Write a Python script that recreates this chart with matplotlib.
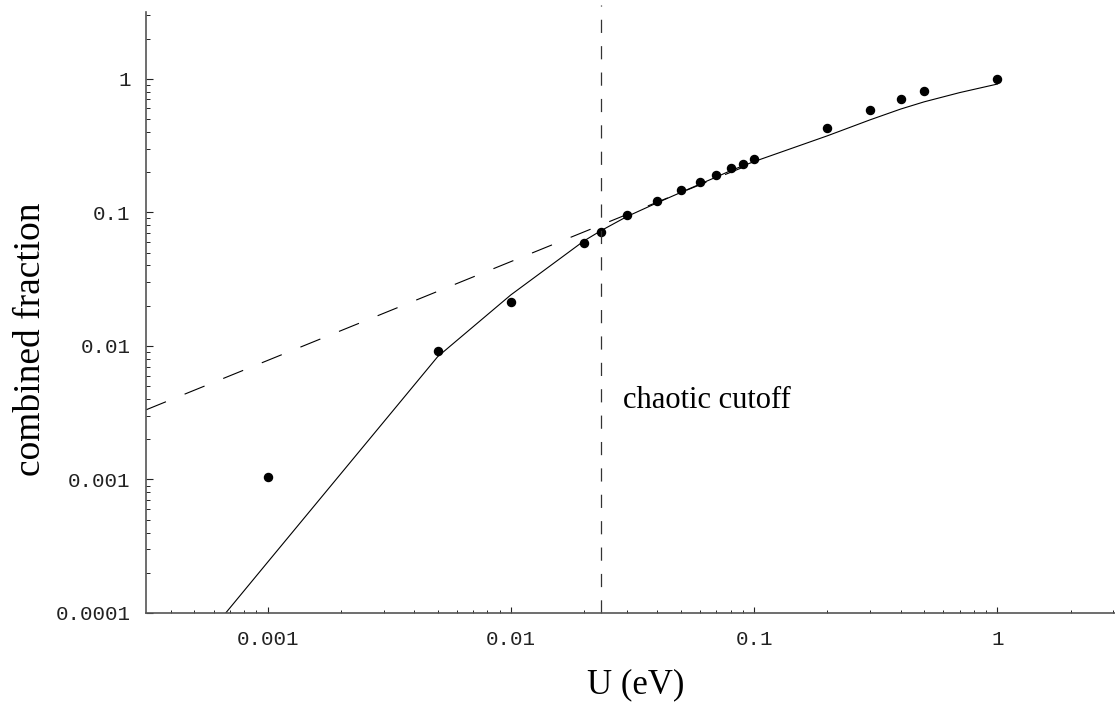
#!/usr/bin/env python3

import matplotlib
matplotlib.use("Agg")
import matplotlib.pyplot as plt
from matplotlib.ticker import FixedLocator, FixedFormatter, LogLocator, NullFormatter

# measured points (dots)
u_pts = [0.001, 0.005, 0.01, 0.02, 0.0235, 0.03, 0.04, 0.05, 0.06, 0.07,
         0.08, 0.09, 0.1, 0.2, 0.3, 0.4, 0.5, 1.0]
f_pts = [0.00105, 0.0092, 0.0214, 0.059, 0.0718, 0.0953, 0.121, 0.148, 0.170,
         0.191, 0.213, 0.232, 0.252, 0.428, 0.579, 0.708, 0.817, 1.0]

# model curve (solid)
u_model = [0.0005, 0.001, 0.005, 0.01, 0.02, 0.0235, 0.03, 0.04, 0.05, 0.06,
           0.07, 0.08, 0.09, 0.1, 0.2, 0.3, 0.4, 0.5, 0.7, 1.0]
f_model = [5.2e-5, 0.00024, 0.0083, 0.0241, 0.0612, 0.073, 0.093, 0.118, 0.141,
           0.163, 0.184, 0.205, 0.223, 0.240, 0.374, 0.493, 0.593, 0.672, 0.788,
           0.913]

# power-law fit (dashed)
u_fit = [10 ** -3.5, 0.1]
f_fit = [0.00332, 0.235]

u_cutoff = 0.0234

x_ticks = [0.001, 0.01, 0.1, 1]
x_labels = ["0.001", "0.01", "0.1", "1"]
y_ticks = [0.0001, 0.001, 0.01, 0.1, 1]
y_labels = ["0.0001", "0.001", "0.01", "0.1", "1"]

plt.rcParams["lines.scale_dashes"] = False
mono = "Liberation Mono"
serif = "Liberation Serif"
axis_col = "#555555"

fig = plt.figure(figsize=(11.15, 7.06), dpi=100)
ax = fig.add_axes([146 / 1115, 93 / 706, 973 / 1115, 601 / 706])
ax.set_xscale("log")
ax.set_yscale("log")
ax.set_xlim(10 ** -3.5, 10 ** 0.5)
ax.set_ylim(1e-4, 10 ** 0.5)

ax.plot(u_fit, f_fit, color="black", lw=0.8, dashes=(15.5, 14.5))
ax.plot(u_model, f_model, color="black", lw=0.8)
ax.plot(u_pts, f_pts, "o", color="black", ms=5.8, mec="black")
ax.axvline(u_cutoff, ymin=0, ymax=1.012, color="#333333", lw=0.9,
           dashes=(9.5, 9.5), clip_on=False)

ax.text(0.029, 0.00344, "chaotic cutoff", family=serif, fontsize=22,
        va="baseline", ha="left")

for s in ["top", "right"]:
    ax.spines[s].set_visible(False)
for s in ["left", "bottom"]:
    ax.spines[s].set_color(axis_col)
    ax.spines[s].set_linewidth(1.2)

ax.xaxis.set_major_locator(FixedLocator(x_ticks))
ax.xaxis.set_major_formatter(FixedFormatter(x_labels))
ax.yaxis.set_major_locator(FixedLocator(y_ticks))
ax.yaxis.set_major_formatter(FixedFormatter(y_labels))
for a in (ax.xaxis, ax.yaxis):
    a.set_minor_locator(LogLocator(base=10, subs=range(2, 10), numticks=20))
    a.set_minor_formatter(NullFormatter())

ax.tick_params(axis="x", which="major", direction="in", length=4.5, width=0.8,
               color="#222222", pad=12)
ax.tick_params(axis="x", which="minor", direction="in", length=2.5, width=0.7,
               color="#222222")
ax.tick_params(axis="y", which="major", direction="in", length=5, width=0.8,
               color="#222222", pad=11)
ax.tick_params(axis="y", which="minor", direction="in", length=3, width=0.7,
               color="#222222")
for lab in ax.get_xticklabels() + ax.get_yticklabels():
    lab.set_family(mono)
    lab.set_fontsize(15)
    lab.set_color("#222222")

fig.text(636 / 1115, 13 / 706, "U (eV)", family=serif, fontsize=25,
         ha="center", va="baseline")
fig.text(31 / 1115, (706 - 339) / 706, "combined fraction", family=serif,
         fontsize=27, ha="center", va="center", rotation=90)

fig.savefig("out.png", dpi=100)
